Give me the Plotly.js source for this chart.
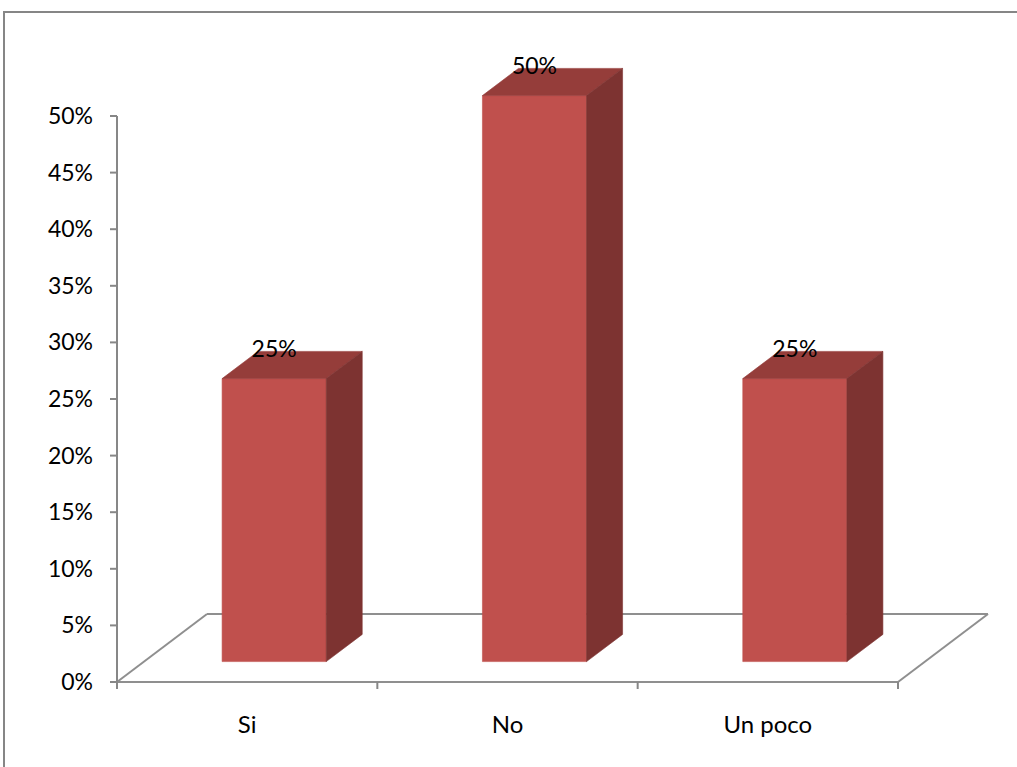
<!DOCTYPE html>
<html>
<head>
<meta charset="utf-8">
<script src="https://cdn.plot.ly/plotly-3.0.1.min.js"></script>
<style>html,body{margin:0;padding:0;background:#fff;}#chart{width:1017px;height:767px;}</style>
</head>
<body>
<div id="chart"></div>
<script>
// ---- data ----
const categories = ['Si', 'No', 'Un poco'];
const values = [0.25, 0.50, 0.25];
const valueLabels = ['25%', '50%', '25%'];
const yTickVals = [0, 0.05, 0.10, 0.15, 0.20, 0.25, 0.30, 0.35, 0.40, 0.45, 0.50];
const yTickText = ['0%', '5%', '10%', '15%', '20%', '25%', '30%', '35%', '40%', '45%', '50%'];

// ---- style / geometry constants ----
const W = 1017, H = 767;
const M = {l: 100, r: 17, t: 55, b: 67};
const PX_PER_CAT = 260.333;     // px per category slot
const PX_PER_UNIT = 1132;       // px per 1.0 value
const X0_PX = 117, Y0_PX = 682; // pixel of (x=-0.5, y=0)
const DX = 90 / PX_PER_CAT;     // depth vector (category units)
const DY = 68 / PX_PER_UNIT;    // depth vector (value units)
const BAR_W = 0.4, D0 = 0.3, D1 = 0.7;
const TICK_X = 7 / PX_PER_UNIT;
const TICK_Y = 7 / PX_PER_CAT;
const COL_FRONT = '#C0504D', COL_TOP = '#953D3A', COL_SIDE = '#7D3331';
const AXIS_COL = '#878787', FLOOR_COL = '#8F8F8F';
const FONT = 'Lato, "Open Sans", sans-serif';

const plotWpx = W - M.l - M.r, plotHpx = H - M.t - M.b;
const xMin = -0.5 - (X0_PX - M.l) / PX_PER_CAT;
const xMax = xMin + plotWpx / PX_PER_CAT;
const yMin = -((H - M.b) - Y0_PX) / PX_PER_UNIT;
const yMax = yMin + plotHpx / PX_PER_UNIT;
const n = categories.length;
const xLeft = -0.5, xRight = n - 0.5;
const yAxisTop = yTickVals[yTickVals.length - 1];

const traces = [];
function face(xs, ys, color) {
  traces.push({type: 'scatter', mode: 'lines', x: xs, y: ys, fill: 'toself',
    fillcolor: color, line: {color: color, width: 0.6}, hoverinfo: 'skip', showlegend: false});
}
values.forEach((v, i) => {
  const x0 = i - BAR_W / 2 + D0 * DX, x1 = i + BAR_W / 2 + D0 * DX;
  const yb = D0 * DY, yt = v + D0 * DY;
  const ddx = (D1 - D0) * DX, ddy = (D1 - D0) * DY;
  face([x0, x1, x1, x0, x0], [yb, yb, yt, yt, yb], COL_FRONT);
  face([x0, x1, x1 + ddx, x0 + ddx, x0], [yt, yt, yt + ddy, yt + ddy, yt], COL_TOP);
  face([x1, x1 + ddx, x1 + ddx, x1, x1], [yb, yb + ddy, yt + ddy, yt, yb], COL_SIDE);
});
traces.push({type: 'scatter', mode: 'text',
  x: values.map((v, i) => i + D0 * DX),
  y: values.map(v => v + D1 * DY),
  text: valueLabels, textposition: 'middle center',
  textfont: {family: FONT, size: 23, color: '#000'},
  cliponaxis: false, hoverinfo: 'skip', showlegend: false});
// category-axis dummy to bind ticks
traces.push({type: 'scatter', mode: 'markers', x: categories.map((c, i) => i), y: categories.map(() => 0),
  marker: {opacity: 0}, hoverinfo: 'skip', showlegend: false});

const shapes = [];
function seg(x0, y0, x1, y1, color) {
  shapes.push({type: 'line', xref: 'x', yref: 'y', x0, y0, x1, y1, layer: 'below',
    line: {color: color, width: 2}});
}
// floor
seg(xLeft, 0, xLeft + DX, DY, FLOOR_COL);
seg(xLeft + DX, DY, xRight + DX, DY, FLOOR_COL);
seg(xRight + DX, DY, xRight, 0, FLOOR_COL);
seg(xLeft, 0, xRight, 0, FLOOR_COL);
// value axis line and ticks
seg(xLeft, -TICK_X, xLeft, yAxisTop, AXIS_COL);
yTickVals.forEach(t => seg(xLeft - TICK_Y, t, xLeft, t, AXIS_COL));
// category boundary ticks
for (let k = 0; k <= n; k++) seg(k - 0.5, 0, k - 0.5, -TICK_X, AXIS_COL);
// outer frame
shapes.push({type: 'rect', xref: 'paper', yref: 'paper',
  x0: (4 - M.l) / plotWpx, x1: (W + 20 - M.l) / plotWpx,
  y0: ((H - M.b) - (H + 20)) / plotHpx, y1: ((H - M.b) - 12) / plotHpx,
  line: {color: '#868686', width: 2}, fillcolor: 'rgba(0,0,0,0)'});

const layout = {
  width: W, height: H, margin: M,
  paper_bgcolor: '#fff', plot_bgcolor: 'rgba(0,0,0,0)',
  showlegend: false,
  font: {family: FONT, color: '#000'},
  xaxis: {range: [xMin, xMax], tickvals: categories.map((c, i) => i), ticktext: categories,
    ticks: '', showline: false, showgrid: false, zeroline: false,
    tickfont: {family: FONT, size: 24, color: '#000'}, ticklabelstandoff: 8, fixedrange: true},
  yaxis: {range: [yMin, yMax], tickvals: yTickVals, ticktext: yTickText,
    ticks: '', showline: false, showgrid: false, zeroline: false,
    tickfont: {family: FONT, size: 23, color: '#000'}, ticklabelstandoff: 6, fixedrange: true},
  shapes: shapes
};
Plotly.newPlot('chart', traces, layout, {displayModeBar: false, staticPlot: true});
</script>
</body>
</html>
